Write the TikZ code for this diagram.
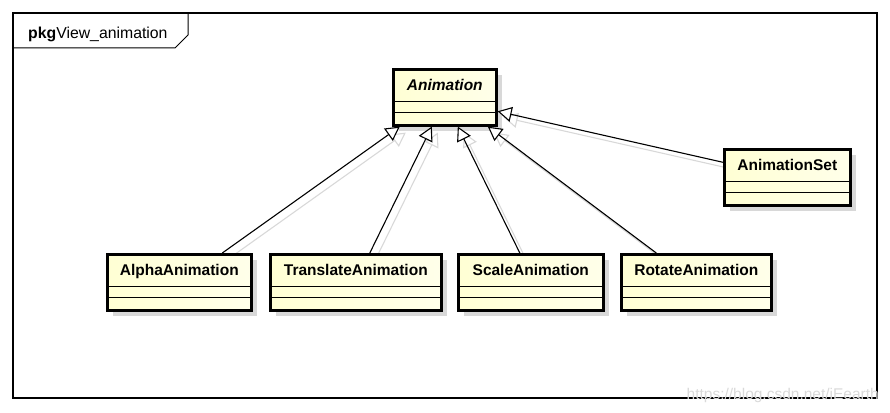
\documentclass[tikz,border=0pt]{standalone}
\usepackage{fontspec}
\setmainfont{Liberation Sans}
\usetikzlibrary{arrows.meta,shadows}
\definecolor{clsfill}{RGB}{255,255,212}
\definecolor{shadowgray}{RGB}{216,216,216}
\pgfdeclarelayer{bg}
\pgfsetlayers{bg,main}
\begin{document}
\begin{tikzpicture}[x=1pt,y=-1pt,
  cls/.style={draw, line width=2.6pt, left color=clsfill, right color=clsfill!50, anchor=north west,
    inner sep=0pt, minimum height=56pt, text height=21pt, text depth=35pt,
    font=\fontsize{15.5}{18}\selectfont\bfseries,
    drop shadow={shadow xshift=6pt, shadow yshift=-6pt, fill=shadowgray, opacity=1},
    path picture={
      \draw[line width=1pt] ([yshift=-32pt]path picture bounding box.north west) -- ([yshift=-32pt]path picture bounding box.north east);
      \draw[line width=1pt] ([yshift=-43pt]path picture bounding box.north west) -- ([yshift=-43pt]path picture bounding box.north east);
    }},
  gen/.style={-{Triangle[fill=white,length=14pt,width=15pt]}, line width=1.1pt},
  genshadow/.style={gen, draw=shadowgray, transform canvas={shift={(6pt,-6pt)}}},
  lbl/.style={font=\fontsize{15.8}{18}\selectfont, inner sep=0pt}
]
\useasboundingbox (0,0) rectangle (890,412);
% frame
\draw[line width=1.2pt] (13,13) rectangle (877,398);
\draw[line width=1pt] (13,48) -- (175,48) -- (188,35) -- (188,13);
\node[lbl, anchor=base west] (pkg) at (28,38) {\textbf{pkg}View\_animation};

% classes
\node[cls, minimum width=103pt, font=\fontsize{15.5}{18}\selectfont\bfseries\itshape] (anim) at (392,68) {Animation};
\node[cls, minimum width=126pt] (set) at (723,148) {AnimationSet};
\node[cls, minimum width=144pt] (alpha) at (106,253) {AlphaAnimation};
\node[cls, minimum width=171pt] (trans) at (269,253) {TranslateAnimation};
\node[cls, minimum width=145pt] (scale) at (457,253) {ScaleAnimation};
\node[cls, minimum width=150pt] (rot) at (620,253) {RotateAnimation};

% connector shadows
\begin{pgfonlayer}{bg}
\draw[genshadow] ([xshift=43pt]alpha.north) -- ([xshift=-45pt]anim.south);
\draw[genshadow] ([xshift=14pt]trans.north) -- ([xshift=-13pt]anim.south);
\draw[genshadow] ([xshift=-11pt]scale.north) -- ([xshift=13pt]anim.south);
\draw[genshadow] ([xshift=-40pt]rot.north) -- ([xshift=43pt]anim.south);
\draw[genshadow] ([yshift=15pt]set.west) -- ([yshift=-14pt]anim.east);
\end{pgfonlayer}

% connectors
\draw[gen] ([xshift=43pt]alpha.north) -- ([xshift=-45pt]anim.south);
\draw[gen] ([xshift=14pt]trans.north) -- ([xshift=-13pt]anim.south);
\draw[gen] ([xshift=-11pt]scale.north) -- ([xshift=13pt]anim.south);
\draw[gen] ([xshift=-40pt]rot.north) -- ([xshift=43pt]anim.south);
\draw[gen] ([yshift=15pt]set.west) -- ([yshift=-14pt]anim.east);

% watermark
\node[lbl, font=\fontsize{15.5}{18}\selectfont, anchor=base east, text=black!15] (wm) at (879,399) {https://blog.csdn.net/iEearth};
\end{tikzpicture}
\end{document}
